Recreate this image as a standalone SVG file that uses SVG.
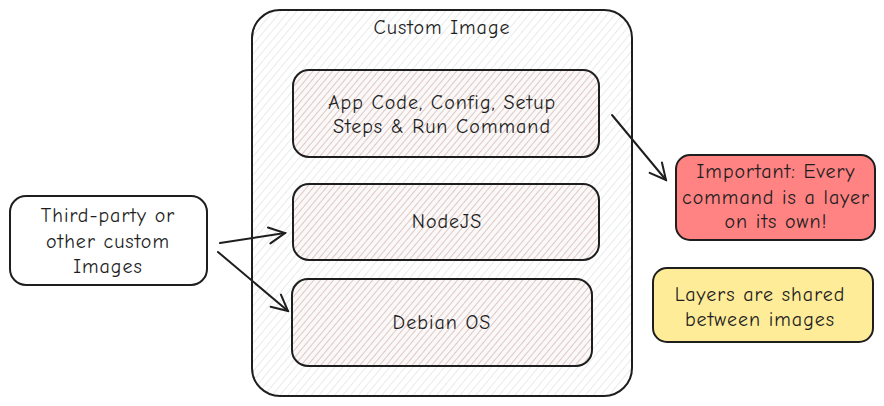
<svg xmlns="http://www.w3.org/2000/svg" width="884" height="406" viewBox="0 0 884 406">
<defs>
<style>
.box{stroke:#1e1e1e;stroke-width:2;}
.t{font-family:"Comic Neue","Liberation Sans",sans-serif;font-size:20px;letter-spacing:1px;fill:#1e1e1e;text-anchor:middle;}
.c{fill:none;stroke:#1e1e1e;stroke-width:2;stroke-linecap:round;}
</style>
<pattern id="hg" width="6" height="6" patternUnits="userSpaceOnUse" patternTransform="rotate(40)">
<rect width="6" height="6" fill="#ffffff"/>
<line x1="0" y1="0" x2="0" y2="6" stroke="#dcdfe2" stroke-width="1.3"/>
</pattern>
<pattern id="hp" width="5" height="5" patternUnits="userSpaceOnUse" patternTransform="rotate(40)">
<rect width="5" height="5" fill="#faf8f8"/>
<line x1="0" y1="0" x2="0" y2="5" stroke="#c9a398" stroke-width="1.1"/>
</pattern>
<marker id="ah" viewBox="0 0 20 20" refX="18" refY="10" markerWidth="20" markerHeight="20" markerUnits="userSpaceOnUse" orient="auto">
<path d="M2 2 L18 10 L2 18" fill="none" stroke="#1e1e1e" stroke-width="2" stroke-linecap="round"/>
</marker>
</defs>
<rect width="884" height="406" fill="#ffffff"/>
<g id="custom-image">
<rect class="box" x="252" y="10" width="380" height="386" rx="28" fill="url(#hg)"/>
<text class="t" x="442" y="34">Custom Image</text>
</g>
<g id="app-code">
<rect class="box" x="293" y="70" width="306" height="87" rx="16" fill="url(#hp)"/>
<text class="t" x="442" y="109">App Code, Config, Setup</text>
<text class="t" x="442" y="133">Steps &amp; Run Command</text>
</g>
<g id="nodejs">
<rect class="box" x="293" y="184" width="306" height="76" rx="16" fill="url(#hp)"/>
<text class="t" x="447" y="228">NodeJS</text>
</g>
<g id="debian">
<rect class="box" x="292" y="279" width="300" height="87" rx="16" fill="url(#hp)"/>
<text class="t" x="442" y="329">Debian OS</text>
</g>
<g id="third-party">
<rect class="box" x="10" y="196" width="197" height="89" rx="16" fill="#ffffff"/>
<text class="t" x="108" y="222">Third-party or</text>
<text class="t" x="108" y="248">other custom</text>
<text class="t" x="108" y="273">Images</text>
</g>
<g id="important">
<rect class="box" x="676" y="155" width="199" height="85" rx="14" fill="#ff8383"/>
<text class="t" x="776" y="178">Important: Every</text>
<text class="t" x="776" y="204">command is a layer</text>
<text class="t" x="776" y="228">on its own!</text>
</g>
<g id="shared">
<rect class="box" x="653" y="268" width="220" height="74" rx="14" fill="#ffec99"/>
<text class="t" x="760" y="301">Layers are shared</text>
<text class="t" x="760" y="326">between images</text>
</g>
<g id="connectors">
<path class="c" d="M220 243 L285 233" marker-end="url(#ah)"/>
<path class="c" d="M218 252 L288 311" marker-end="url(#ah)"/>
<path class="c" d="M612 115 L666 180" marker-end="url(#ah)"/>
</g>
</svg>
